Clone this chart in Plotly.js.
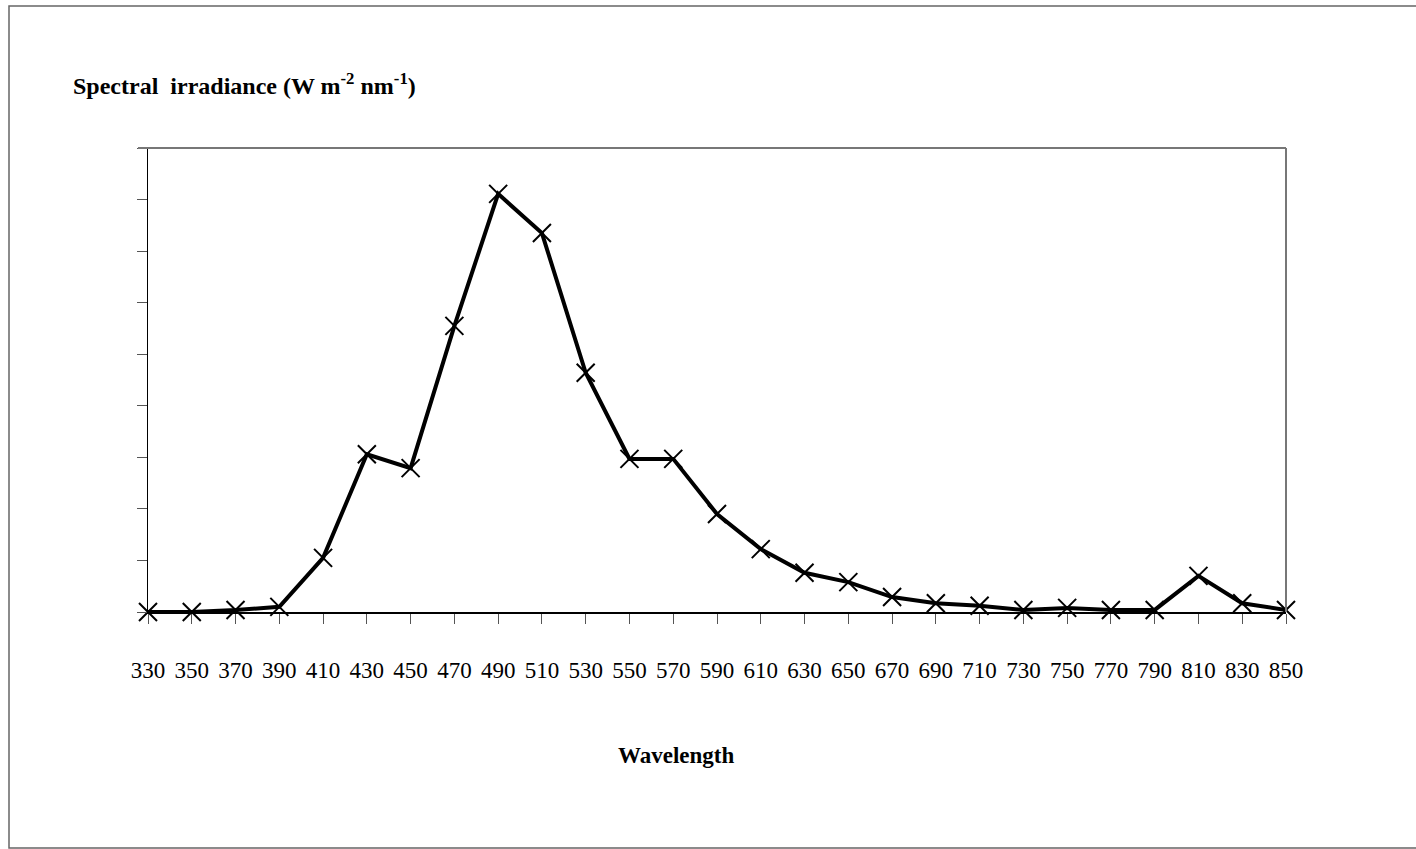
<!DOCTYPE html>
<html>
<head>
<meta charset="utf-8">
<script src="https://cdn.plot.ly/plotly-3.0.1.min.js"></script>
<style>html,body{margin:0;padding:0;background:#fff;}#chart{width:1416px;height:849px;}</style>
</head>
<body>
<div id="chart"></div>
<script>
const wavelengths = [330,350,370,390,410,430,450,470,490,510,530,550,570,590,610,630,650,670,690,710,730,750,770,790,810,830,850];
const irradiance = [0,0,0.04,0.1,1.05,3.06,2.79,5.55,8.11,7.35,4.64,2.97,2.97,1.9,1.22,0.76,0.58,0.29,0.17,0.12,0.04,0.08,0.04,0.04,0.70,0.17,0.04];
const tickLabels = wavelengths.map(String);
const yTicks = [0,1,2,3,4,5,6,7,8,9];

const W = 1416, H = 849;
const L = 148, R = 1286, T = 148, B = 612;
const px = x => (x - L) / (R - L);
const py = y => (B - y) / (B - T);

const trace = {
  x: wavelengths, y: irradiance, type: 'scatter', mode: 'lines+markers',
  line: {color: '#000', width: 4},
  marker: {symbol: 'x-thin-open', size: 18, line: {color: '#000', width: 2}, color: '#000'},
  cliponaxis: false, hoverinfo: 'skip'
};

const layout = {
  width: W, height: H,
  margin: {l: L, r: W - R, t: T, b: H - B, pad: 0},
  paper_bgcolor: '#fff', plot_bgcolor: '#fff',
  showlegend: false,
  font: {family: '"Liberation Serif", "Times New Roman", serif', color: '#000'},
  xaxis: {
    range: [330, 850], tickvals: wavelengths, ticktext: tickLabels,
    ticks: 'outside', ticklen: 10, tickwidth: 1, tickcolor: '#555',
    showline: true, linecolor: '#000', linewidth: 1.5,
    showgrid: false, zeroline: false,
    tickfont: {size: 23, family: '"Liberation Serif", serif', color: '#000'},
    ticklabelstandoff: 27, tickangle: 0
  },
  yaxis: {
    range: [0, 9], tickvals: yTicks, showticklabels: false,
    ticks: 'outside', ticklen: 10, tickwidth: 1, tickcolor: '#555',
    showline: true, linecolor: '#000', linewidth: 1.5,
    showgrid: false, zeroline: false
  },
  shapes: [
    {type: 'line', xref: 'paper', yref: 'paper', x0: px(138), x1: 1, y0: 1, y1: 1, line: {color: '#777', width: 2}},
    {type: 'line', xref: 'paper', yref: 'paper', x0: 1, x1: 1, y0: 0, y1: 1, line: {color: '#777', width: 2}},
    {type: 'rect', xref: 'paper', yref: 'paper', x0: px(9), x1: px(1425), y0: py(848), y1: py(6), line: {color: '#666', width: 1.5}, fillcolor: 'rgba(0,0,0,0)', layer: 'below'}
  ],
  annotations: [
    {xref: 'paper', yref: 'paper', x: px(71), y: py(84), xanchor: 'left', yanchor: 'middle', showarrow: false,
     text: '<b>Spectral  irradiance (W m<sup>-2</sup> nm<sup>-1</sup>)</b>',
     font: {size: 24, family: '"Liberation Serif", serif', color: '#000'}},
    {xref: 'paper', yref: 'paper', x: px(676), y: py(755), xanchor: 'center', yanchor: 'middle', showarrow: false,
     text: '<b>Wavelength</b>',
     font: {size: 23, family: '"Liberation Serif", serif', color: '#000'}}
  ]
};

Plotly.newPlot('chart', [trace], layout, {staticPlot: true, displayModeBar: false});
</script>
</body>
</html>
